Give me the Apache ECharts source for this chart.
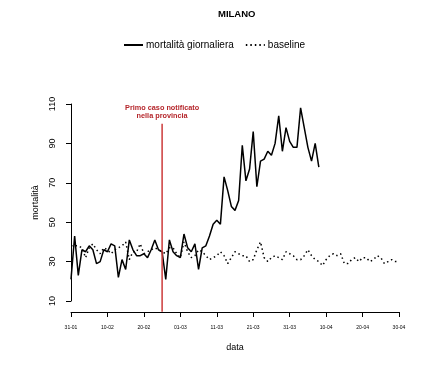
<!DOCTYPE html>
<html>
<head>
<meta charset="utf-8">
<script src="https://cdn.jsdelivr.net/npm/echarts@6/dist/echarts.min.js"></script>
<style>html,body{margin:0;padding:0;background:#fff}#c{width:438px;height:365px}</style>
</head>
<body>
<div id="c"></div>
<script>
// Days counted from 31-01 (day 0)
const tickLabels = ["31-01","10-02","20-02","01-03","11-03","21-03","31-03","10-04","20-04","30-04"];
const mortalita = [21,43,23,36,35,38,36,29,30,36,35,39,38,22,31,26,41,36,33,33,34,32,36,41,36,35,21,41,35,33,32,44,37,35,39,26,37,38,43,49,51,49,73,66,58,56,61,89,71,77,96,68,81,82,86,84,90,104,86,98,91,88,88,108,98,88,81,90,78];
const baseline = [38,38,38,37,32,37,39,36,34,37,36,34,36,37,38,40,31,35,35,39,34,35,36,37,36,35,34,37,37,34,32,40,35,32,33,36,35,33,31,32,33,35,33,29,32,35,34,33,33,30,31,36,40,32,30,32,33,32,31,35,34,33,31,31,33,36,33,31,30,28,31,33,34,33,34,29,29,31,32,30,32,32,30,31,33,32,29,30,31,30,30];
const eventDay = 25;           // 25-02
const eventLabel = "Primo caso notificato\nnella provincia";
const eventTop = 100;
const eventBottom = 4.5;

const font = "'Liberation Sans', Arial, Helvetica, sans-serif";
const chart = echarts.init(document.getElementById('c'), null, {renderer: 'canvas'});
chart.setOption({
  animation: false,
  textStyle: {fontFamily: font, color: '#000'},
  title: {
    text: 'MILANO', left: 218, top: 9, padding: 0,
    textStyle: {fontFamily: font, fontSize: 9.5, fontWeight: 'bold', color: '#000'}
  },
  legend: {
    data: ['mortalità giornaliera', 'baseline'],
    left: 123, top: 40, padding: 0,
    itemWidth: 19, itemHeight: 10, itemGap: 11,
    itemStyle: {opacity: 0, borderWidth: 0},
    textStyle: {fontFamily: font, fontSize: 10, color: '#000', padding: [0, 0, 0, -2]}
  },
  grid: {left: 71, right: 39, top: 104, bottom: 64, outerBoundsMode: 'none'},
  xAxis: {
    type: 'value', min: 0, max: 90, interval: 10, offset: 11,
    name: 'data', nameLocation: 'middle', nameGap: 31,
    nameTextStyle: {fontFamily: font, fontSize: 9, color: '#000'},
    axisLine: {show: true, lineStyle: {color: '#000', width: 1}},
    axisTick: {show: true, length: 5, lineStyle: {color: '#000'}},
    axisLabel: {fontSize: 5, color: '#000', margin: 13, formatter: v => tickLabels[Math.round(v / 10)]},
    splitLine: {show: false}
  },
  yAxis: {
    type: 'value', min: 10, max: 110, interval: 20, offset: 6,
    name: 'mortalità', nameLocation: 'middle', nameGap: 24,
    nameTextStyle: {fontFamily: font, fontSize: 9, color: '#000'},
    axisLine: {show: true, lineStyle: {color: '#000', width: 1}},
    axisTick: {show: true, length: 5, lineStyle: {color: '#000'}},
    axisLabel: {fontSize: 9, color: '#000', rotate: 90, margin: 8},
    splitLine: {show: false}
  },
  series: [
    {
      name: 'mortalità giornaliera', type: 'line',
      data: mortalita.map((v, i) => [i, v]),
      symbol: 'none', z: 3,
      lineStyle: {color: '#000', width: 1.5},
      itemStyle: {color: '#000'}
    },
    {
      name: 'baseline', type: 'line',
      data: baseline.map((v, i) => [i, v]),
      symbol: 'none', z: 2,
      lineStyle: {color: '#000', width: 1.5, type: [1.5, 3]},
      itemStyle: {color: '#000'}
    },
    {
      name: 'evento', type: 'line', clip: false, z: 4,
      showSymbol: true, symbol: 'circle', symbolSize: 0.1,
      data: [
        {value: [eventDay, eventTop], label: {show: true, position: 'top', distance: 3, formatter: eventLabel,
          fontFamily: font, fontSize: 7.3, fontWeight: 'bold', lineHeight: 8.4, color: '#b5262b', align: 'center'}},
        {value: [eventDay, eventBottom], label: {show: false}}
      ],
      lineStyle: {color: '#cc3b3b', width: 1.5},
      itemStyle: {color: '#cc3b3b'}
    }
  ]
});
</script>
</body>
</html>
